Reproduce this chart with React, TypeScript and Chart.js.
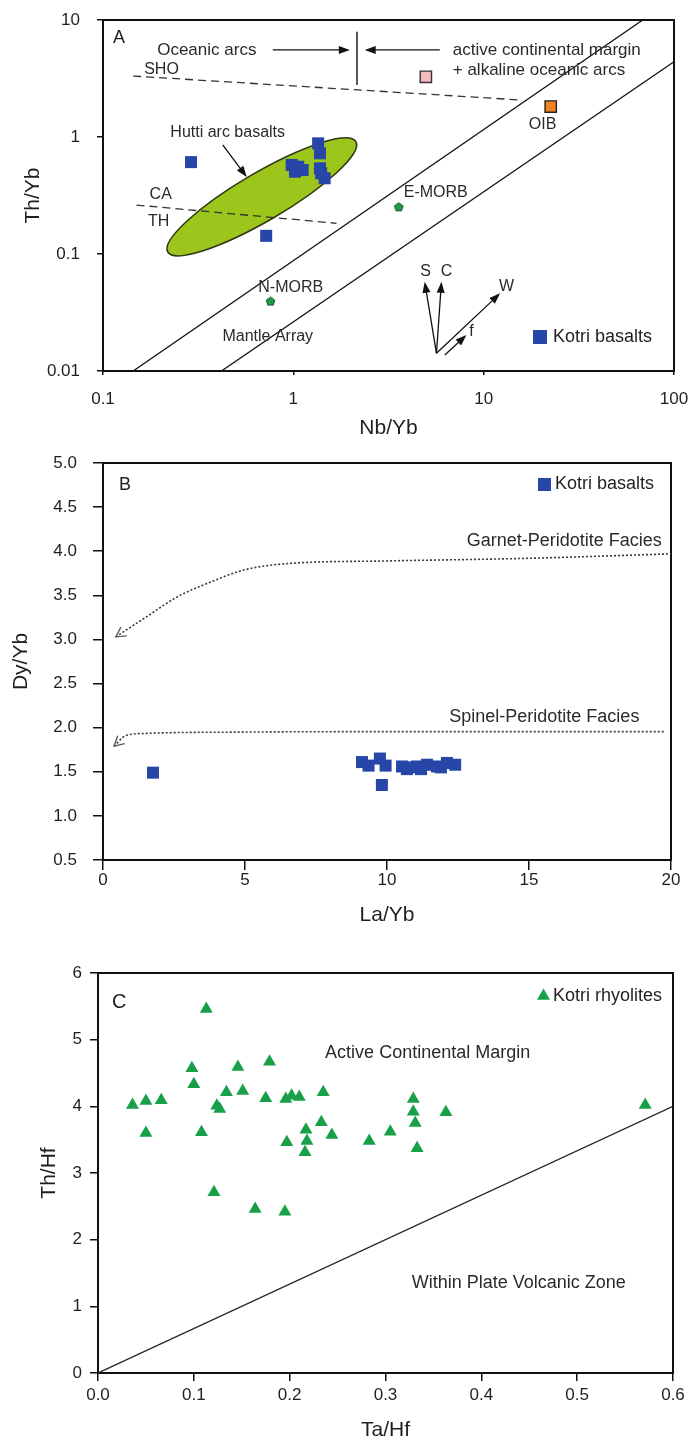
import React, { useEffect, useRef } from "react";
import { Chart, registerables } from "chart.js";

Chart.register(...registerables);

const FONT = "'Liberation Sans', Arial, Helvetica, sans-serif";
const INK = "#1f1f1f";
const TEXT = "#2a2a2a";
const BLUE = "#2646a8";
const GREEN = "#17a048";
const LIME = "#9cc61c";

// ---------------- Panel A : Th/Yb vs Nb/Yb (log-log) ----------------
const logTicksNbYb = [0.1, 1, 10, 100];
const logTicksThYb = [0.01, 0.1, 1, 10];

const kotriNbYb = [0.29, 0.72, 0.98, 1.06, 1.02, 1.12, 1.35, 1.38, 1.38, 1.4, 1.46];
const kotriThYb = [0.61, 0.143, 0.577, 0.557, 0.505, 0.522, 0.883, 0.725, 0.54, 0.49, 0.444];

const activeMarginNbYb = [4.97];
const activeMarginThYb = [3.27];
const oibNbYb = [22.5];
const oibThYb = [1.82];
const morbNbYb = [3.58, 0.759];
const morbThYb = [0.254, 0.0397];

const mantleUpperNbYb = [0.144, 68.5];
const mantleUpperThYb = [0.01, 10];
const mantleLowerNbYb = [0.419, 100];
const mantleLowerThYb = [0.01, 4.4];
const shoNbYb = [0.144, 15.8];
const shoThYb = [3.32, 2.07];
const caThNbYb = [0.15, 1.685];
const caThThYb = [0.262, 0.183];
const arcDividerNbYb = [2.16, 2.16];
const arcDividerThYb = [7.94, 2.78];

// Hutti arc basalt field: two tips of the ellipse (Nb/Yb, Th/Yb)
const huttiTipsNbYb = [0.219, 2.13];
const huttiTipsThYb = [0.104, 0.912];

const labelsA = ["Oceanic arcs", "active continental margin", "+ alkaline oceanic arcs", "SHO", "Hutti arc basalts", "CA", "TH", "E-MORB", "OIB", "N-MORB", "Mantle Array", "S", "C", "W", "f"];
const labelNbYbA = [0.351, 6.88, 6.88, 0.203, 0.452, 0.201, 0.196, 5.6, 20.4, 0.969, 0.734, 4.96, 6.38, 13.2, 8.63];
const labelThYbA = [5.55, 5.55, 3.74, 3.74, 1.08, 0.319, 0.191, 0.332, 1.27, 0.0513, 0.01954, 0.0706, 0.0706, 0.0525, 0.0217];
const labelAlignA = ["center", "left", "left", "center", "center", "center", "center", "center", "center", "center", "center", "center", "center", "center", "center"];
const labelSizeA = [17, 17, 17, 16, 16, 16, 16, 16, 16, 16, 16, 16, 16, 16, 16];

// arrows: [fromNbYb, fromThYb, toNbYb, toThYb]
const arrowsA = [
  [0.78, 5.55, 1.98, 5.55],
  [5.88, 5.55, 2.37, 5.55],
  [0.4257, 0.855, 0.569, 0.455],
  [5.65, 0.01416, 4.9, 0.058],
  [5.65, 0.01416, 6.0, 0.058],
  [5.65, 0.01416, 12.2, 0.0461],
  [6.25, 0.0137, 8.12, 0.0203],
];

// ---------------- Panel B : Dy/Yb vs La/Yb ----------------
const kotriLaYb = [1.76, 9.12, 9.35, 9.75, 9.95, 9.82, 10.53, 10.7, 10.85, 11.06, 11.2, 11.41, 11.76, 11.9, 12.11, 12.4];
const kotriDyYb = [1.49, 1.61, 1.57, 1.65, 1.57, 1.35, 1.56, 1.53, 1.55, 1.56, 1.53, 1.58, 1.56, 1.55, 1.6, 1.58];
const garnetLaYb = [0.45, 1.5, 2.6, 3.7, 5, 6.5, 10, 15, 20];
const garnetDyYb = [3.03, 3.25, 3.48, 3.64, 3.79, 3.86, 3.89, 3.92, 3.97];
const spinelLaYb = [0.39, 0.8, 1.5, 5, 10, 15, 19.75];
const spinelDyYb = [1.79, 1.91, 1.935, 1.95, 1.955, 1.955, 1.955];

// ---------------- Panel C : Th/Hf vs Ta/Hf ----------------
const rhyoliteTaHf = [0.036, 0.05, 0.066, 0.05, 0.113, 0.098, 0.1, 0.108, 0.124, 0.127, 0.134, 0.151, 0.146, 0.179, 0.175, 0.121, 0.164, 0.195, 0.196, 0.202, 0.21, 0.197, 0.217, 0.218, 0.216, 0.235, 0.233, 0.244, 0.283, 0.305, 0.329, 0.329, 0.331, 0.333, 0.363, 0.571];
const rhyoliteThHf = [4.02, 4.08, 4.09, 3.6, 5.46, 4.57, 4.33, 3.61, 4.01, 3.96, 4.21, 4.23, 4.59, 4.67, 4.12, 2.71, 2.46, 2.42, 4.11, 4.16, 4.14, 3.46, 3.65, 3.48, 3.31, 4.21, 3.76, 3.57, 3.48, 3.62, 4.11, 3.92, 3.75, 3.37, 3.91, 4.02];
const wpvzTaHf = [0, 0.6];
const wpvzThHf = [0, 4.0];

// ---------------- helpers ----------------
type Pt = { x: number; y: number };
const zip = (xs: number[], ys: number[]): Pt[] => xs.map((x, i) => ({ x, y: ys[i] }));

function text(ctx: CanvasRenderingContext2D, s: string, x: number, y: number, size: number, align: CanvasTextAlign = "center", color = TEXT) {
  ctx.font = `${size}px ${FONT}`;
  ctx.fillStyle = color;
  ctx.textAlign = align;
  ctx.textBaseline = "middle";
  ctx.fillText(s, x, y);
}

function arrow(ctx: CanvasRenderingContext2D, x0: number, y0: number, x1: number, y1: number, head = 11, half = 4) {
  const a = Math.atan2(y1 - y0, x1 - x0);
  const c = Math.cos(a), s = Math.sin(a);
  ctx.beginPath();
  ctx.moveTo(x0, y0);
  ctx.lineTo(x1 - c * head * 0.7, y1 - s * head * 0.7);
  ctx.stroke();
  ctx.beginPath();
  ctx.moveTo(x1, y1);
  ctx.lineTo(x1 - c * head - s * half, y1 - s * head + c * half);
  ctx.lineTo(x1 - c * head + s * half, y1 - s * head - c * half);
  ctx.closePath();
  ctx.fill();
}

function openArrowHead(ctx: CanvasRenderingContext2D, xFrom: number, yFrom: number, x1: number, y1: number, len = 11, spread = 0.5) {
  const a = Math.atan2(y1 - yFrom, x1 - xFrom);
  ctx.beginPath();
  ctx.moveTo(x1 - len * Math.cos(a - spread), y1 - len * Math.sin(a - spread));
  ctx.lineTo(x1, y1);
  ctx.lineTo(x1 - len * Math.cos(a + spread), y1 - len * Math.sin(a + spread));
  ctx.stroke();
}

function drawBox(chart: any) {
  const { ctx, chartArea: a } = chart;
  ctx.save();
  ctx.strokeStyle = "#111";
  ctx.lineWidth = 2;
  ctx.strokeRect(a.left, a.top, a.right - a.left, a.bottom - a.top);
  ctx.restore();
}

function makePentagon(size: number, fill: string, stroke: string) {
  const c = document.createElement("canvas");
  c.width = size;
  c.height = size;
  const g = c.getContext("2d")!;
  const r = size / 2 - 1;
  const cx = size / 2, cy = size / 2 + 0.6;
  g.beginPath();
  for (let i = 0; i < 5; i++) {
    const ang = -Math.PI / 2 + (i * 2 * Math.PI) / 5;
    const px = cx + r * Math.cos(ang), py = cy + r * Math.sin(ang);
    if (i === 0) g.moveTo(px, py);
    else g.lineTo(px, py);
  }
  g.closePath();
  g.fillStyle = fill;
  g.fill();
  g.strokeStyle = stroke;
  g.lineWidth = 1;
  g.stroke();
  return c;
}

const tickFont = { family: FONT, size: 17 };
const titleFont = { family: FONT, size: 21 };

function axisGrid(len: number) {
  return { display: true, drawOnChartArea: false, drawTicks: true, tickLength: len, color: "#111", lineWidth: 1.5 };
}

// fix the axis box sizes and drop the label overhang padding so the plot areas land exactly
const fixY = (w: number) => (s: any) => { s.width = w; s.paddingTop = 0; s.paddingBottom = 0; };
const fixX = (h: number) => (s: any) => { s.height = h; s.paddingLeft = 0; s.paddingRight = 0; };

const baseOptions = (padding: any) => ({
  responsive: false,
  animation: false as const,
  events: [] as any[],
  layout: { padding },
  plugins: { legend: { display: false }, tooltip: { enabled: false } },
});

// ---------------- Panel configs ----------------
function configA() {
  const pent = makePentagon(11, "#1f9a48", "#0f4d22");
  const line = (xs: number[], ys: number[], extra: any = {}) => ({
    data: zip(xs, ys),
    showLine: true,
    pointRadius: 0,
    borderColor: "#111",
    borderWidth: 1.3,
    ...extra,
  });
  const annotate = {
    id: "annotateA",
    beforeDatasetsDraw(chart: any) {
      drawBox(chart);
      const { ctx, scales } = chart;
      const p1 = { x: scales.x.getPixelForValue(huttiTipsNbYb[0]), y: scales.y.getPixelForValue(huttiTipsThYb[0]) };
      const p2 = { x: scales.x.getPixelForValue(huttiTipsNbYb[1]), y: scales.y.getPixelForValue(huttiTipsThYb[1]) };
      const cx = (p1.x + p2.x) / 2, cy = (p1.y + p2.y) / 2;
      const major = Math.hypot(p2.x - p1.x, p2.y - p1.y) / 2;
      const ang = Math.atan2(p2.y - p1.y, p2.x - p1.x);
      ctx.save();
      ctx.beginPath();
      ctx.ellipse(cx, cy, major, major * 0.22, ang, 0, Math.PI * 2);
      ctx.fillStyle = LIME;
      ctx.fill();
      ctx.strokeStyle = "#2f3a12";
      ctx.lineWidth = 1.6;
      ctx.stroke();
      ctx.restore();
    },
    afterDatasetsDraw(chart: any) {
      const { ctx, scales, chartArea: a } = chart;
      const X = (v: number) => scales.x.getPixelForValue(v);
      const Y = (v: number) => scales.y.getPixelForValue(v);
      ctx.save();
      ctx.strokeStyle = "#111";
      ctx.fillStyle = "#111";
      ctx.lineWidth = 1.3;
      arrowsA.forEach(([x0, y0, x1, y1]) => arrow(ctx, X(x0), Y(y0), X(x1), Y(y1)));
      labelsA.forEach((s, i) => text(ctx, s, X(labelNbYbA[i]), Y(labelThYbA[i]), labelSizeA[i], labelAlignA[i] as CanvasTextAlign));
      text(ctx, "A", a.left + 10, a.top + 18, 18, "left", INK);
      // legend
      ctx.fillStyle = BLUE;
      ctx.fillRect(a.right - 141, a.bottom - 41, 14, 14);
      text(ctx, "Kotri basalts", a.right - 121, a.bottom - 34, 18, "left", INK);
      ctx.restore();
    },
  };
  return {
    type: "scatter",
    data: {
      datasets: [
        { label: "Kotri basalts", data: zip(kotriNbYb, kotriThYb), pointStyle: "rect", pointRadius: 8.5, backgroundColor: BLUE, borderWidth: 0 },
        { label: "Active margin", data: zip(activeMarginNbYb, activeMarginThYb), pointStyle: "rect", pointRadius: 8, backgroundColor: "#f6b8c1", borderColor: "#333", borderWidth: 1.4 },
        { label: "OIB", data: zip(oibNbYb, oibThYb), pointStyle: "rect", pointRadius: 8, backgroundColor: "#f0821e", borderColor: "#222", borderWidth: 1.4 },
        { label: "MORB", data: zip(morbNbYb, morbThYb), pointStyle: pent, pointRadius: 6 },
        line(arcDividerNbYb, arcDividerThYb, { borderWidth: 1.4 }),
        line(shoNbYb, shoThYb, { borderDash: [8, 5], borderColor: "#333" }),
        line(caThNbYb, caThThYb, { borderDash: [8, 5], borderColor: "#333" }),
        line(mantleUpperNbYb, mantleUpperThYb),
        line(mantleLowerNbYb, mantleLowerThYb),
      ],
    },
    options: {
      ...baseOptions({ left: 0, top: 20, right: 20, bottom: 0 }),
      scales: {
        x: {
          type: "logarithmic",
          min: 0.1,
          max: 100,
          afterBuildTicks: (s: any) => { s.ticks = logTicksNbYb.map((v) => ({ value: v })); },
          afterFit: fixX(74),
          ticks: { callback: (v: any) => String(v), font: tickFont, color: INK, padding: 14, maxRotation: 0, autoSkip: false },
          grid: axisGrid(4),
          border: { display: false },
          title: { display: true, text: "Nb/Yb", font: titleFont, color: INK, padding: { top: 0, bottom: 4 } },
        },
        y: {
          type: "logarithmic",
          min: 0.01,
          max: 10,
          afterBuildTicks: (s: any) => { s.ticks = logTicksThYb.map((v) => ({ value: v })); },
          afterFit: fixY(103),
          ticks: { callback: (v: any) => String(v), font: tickFont, color: INK, padding: 17, autoSkip: false },
          grid: axisGrid(6),
          border: { display: false },
          title: { display: true, text: "Th/Yb", font: titleFont, color: INK, padding: { top: 21, bottom: 0 } },
        },
      },
    },
    plugins: [annotate],
  };
}

function configB() {
  const annotate = {
    id: "annotateB",
    beforeDatasetsDraw(chart: any) {
      drawBox(chart);
    },
    afterDatasetsDraw(chart: any) {
      const { ctx, scales, chartArea: a } = chart;
      const X = (v: number) => scales.x.getPixelForValue(v);
      const Y = (v: number) => scales.y.getPixelForValue(v);
      ctx.save();
      ctx.strokeStyle = "#555";
      ctx.lineWidth = 1.3;
      openArrowHead(ctx, X(garnetLaYb[1]), Y(garnetDyYb[1]), X(garnetLaYb[0]), Y(garnetDyYb[0]));
      openArrowHead(ctx, X(spinelLaYb[1]), Y(spinelDyYb[1]), X(spinelLaYb[0]), Y(spinelDyYb[0]));
      text(ctx, "Garnet-Peridotite Facies", X(16.24), Y(4.12), 18, "center", TEXT);
      text(ctx, "Spinel-Peridotite Facies", X(15.54), Y(2.12), 18, "center", TEXT);
      text(ctx, "B", a.left + 16, a.top + 22, 18, "left", INK);
      ctx.fillStyle = BLUE;
      ctx.fillRect(a.right - 133, a.top + 15, 13, 13);
      text(ctx, "Kotri basalts", a.right - 116, a.top + 21, 18, "left", INK);
      ctx.restore();
    },
  };
  const curve = (xs: number[], ys: number[]) => ({
    data: zip(xs, ys),
    showLine: true,
    pointRadius: 0,
    borderColor: "#3a3a3a",
    borderWidth: 1.6,
    borderDash: [2, 2],
    cubicInterpolationMode: "monotone",
  });
  return {
    type: "scatter",
    data: {
      datasets: [
        { label: "Kotri basalts", data: zip(kotriLaYb, kotriDyYb), pointStyle: "rect", pointRadius: 8.5, backgroundColor: BLUE, borderWidth: 0 },
        curve(garnetLaYb, garnetDyYb),
        curve(spinelLaYb, spinelDyYb),
      ],
    },
    options: {
      ...baseOptions({ left: 0, top: 18, right: 23, bottom: 0 }),
      scales: {
        x: {
          type: "linear",
          min: 0,
          max: 20,
          afterFit: fixX(105),
          ticks: { stepSize: 5, callback: (v: any) => String(v), font: tickFont, color: INK, padding: 0, maxRotation: 0 },
          grid: axisGrid(10),
          border: { display: false },
          title: { display: true, text: "La/Yb", font: titleFont, color: INK, padding: { top: 0, bottom: 37 } },
        },
        y: {
          type: "linear",
          min: 0.5,
          max: 5,
          afterFit: fixY(103),
          ticks: { stepSize: 0.5, callback: (v: any) => Number(v).toFixed(1), font: tickFont, color: INK, padding: 16 },
          grid: axisGrid(10),
          border: { display: false },
          title: { display: true, text: "Dy/Yb", font: titleFont, color: INK, padding: { top: 9, bottom: 0 } },
        },
      },
    },
    plugins: [annotate],
  };
}

function configC() {
  const annotate = {
    id: "annotateC",
    beforeDatasetsDraw(chart: any) {
      drawBox(chart);
    },
    afterDatasetsDraw(chart: any) {
      const { ctx, scales, chartArea: a } = chart;
      const X = (v: number) => scales.x.getPixelForValue(v);
      const Y = (v: number) => scales.y.getPixelForValue(v);
      ctx.save();
      text(ctx, "Active Continental Margin", X(0.344), Y(4.8), 18, "center", TEXT);
      text(ctx, "Within Plate Volcanic Zone", X(0.439), Y(1.345), 18, "center", TEXT);
      text(ctx, "C", a.left + 14, a.top + 29, 20, "left", INK);
      // legend triangle
      const cx = a.right - 129.5, cy = a.top + 23, r = 7.5;
      ctx.fillStyle = GREEN;
      ctx.beginPath();
      ctx.moveTo(cx, cy - r);
      ctx.lineTo(cx + r * 0.866, cy + r * 0.5);
      ctx.lineTo(cx - r * 0.866, cy + r * 0.5);
      ctx.closePath();
      ctx.fill();
      text(ctx, "Kotri rhyolites", a.right - 120, a.top + 23, 18, "left", INK);
      ctx.restore();
    },
  };
  return {
    type: "scatter",
    data: {
      datasets: [
        { label: "Kotri rhyolites", data: zip(rhyoliteTaHf, rhyoliteThHf), pointStyle: "triangle", pointRadius: 7.5, backgroundColor: GREEN, borderWidth: 0 },
        { data: zip(wpvzTaHf, wpvzThHf), showLine: true, pointRadius: 0, borderColor: "#222", borderWidth: 1.3 },
      ],
    },
    options: {
      ...baseOptions({ left: 0, top: 13, right: 21, bottom: 0 }),
      scales: {
        x: {
          type: "linear",
          min: 0,
          max: 0.6,
          afterFit: fixX(72),
          ticks: { stepSize: 0.1, callback: (v: any) => Number(v).toFixed(1), font: tickFont, color: INK, padding: 4, maxRotation: 0 },
          grid: axisGrid(8),
          border: { display: false },
          title: { display: true, text: "Ta/Hf", font: titleFont, color: INK, padding: { top: 0, bottom: 2 } },
        },
        y: {
          type: "linear",
          min: 0,
          max: 6,
          afterFit: fixY(98),
          ticks: { stepSize: 1, callback: (v: any) => String(v), font: tickFont, color: INK, padding: 8 },
          grid: axisGrid(8),
          border: { display: false },
          title: { display: true, text: "Th/Hf", font: titleFont, color: INK, padding: { top: 37, bottom: 0 } },
        },
      },
    },
    plugins: [annotate],
  };
}

function ChartPanel({ top, height, build }: { top: number; height: number; build: () => any }) {
  const ref = useRef<HTMLCanvasElement | null>(null);
  useEffect(() => {
    if (!ref.current) return;
    const chart = new Chart(ref.current, build());
    return () => chart.destroy();
  }, [build]);
  return (
    <canvas
      ref={ref}
      width={694}
      height={height}
      style={{ position: "absolute", left: 0, top, width: 694, height, display: "block" }}
    />
  );
}

export default function App() {
  return (
    <div style={{ position: "absolute", left: 0, top: 0, width: 694, height: 1445, background: "#fff" }}>
      <ChartPanel top={0} height={445} build={configA} />
      <ChartPanel top={445} height={520} build={configB} />
      <ChartPanel top={960} height={485} build={configC} />
    </div>
  );
}
